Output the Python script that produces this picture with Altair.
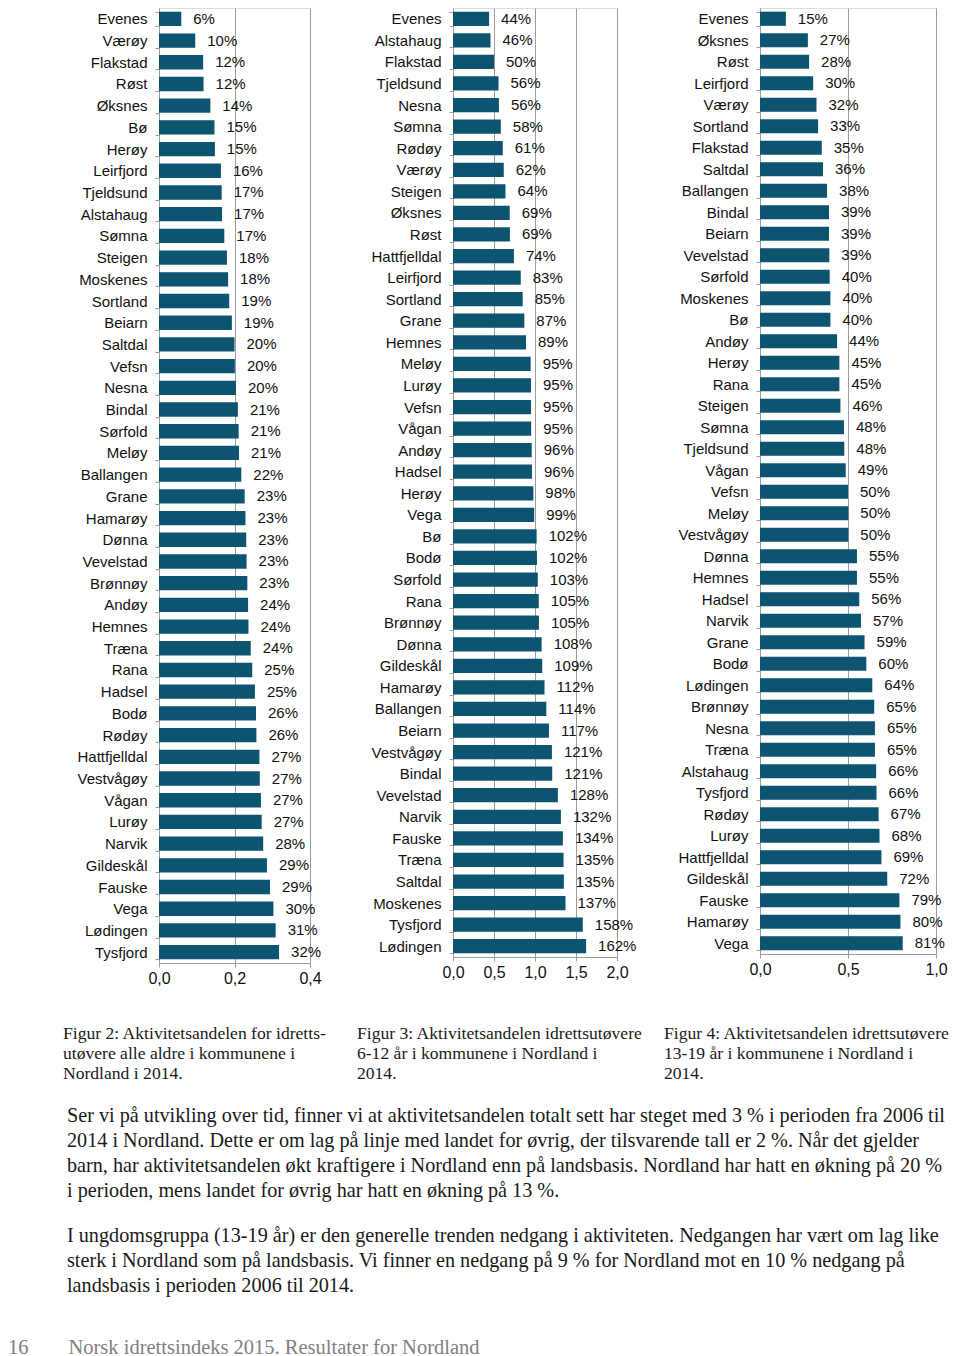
import altair as alt
import pandas as pd

# ---------------- data ----------------
names1 = ["Evenes", "Værøy", "Flakstad", "Røst", "Øksnes", "Bø", "Herøy", "Leirfjord",
          "Tjeldsund", "Alstahaug", "Sømna", "Steigen", "Moskenes", "Sortland", "Beiarn",
          "Saltdal", "Vefsn", "Nesna", "Bindal", "Sørfold", "Meløy", "Ballangen", "Grane",
          "Hamarøy", "Dønna", "Vevelstad", "Brønnøy", "Andøy", "Hemnes", "Træna", "Rana",
          "Hadsel", "Bodø", "Rødøy", "Hattfjelldal", "Vestvågøy", "Vågan", "Lurøy", "Narvik",
          "Gildeskål", "Fauske", "Vega", "Lødingen", "Tysfjord"]
vals1 = [0.059, 0.096, 0.117, 0.118, 0.136, 0.147, 0.148, 0.164,
         0.166, 0.167, 0.173, 0.180, 0.183, 0.186, 0.193,
         0.200, 0.201, 0.204, 0.209, 0.211, 0.212, 0.218, 0.227,
         0.229, 0.231, 0.232, 0.234, 0.236, 0.237, 0.243, 0.247,
         0.254, 0.257, 0.258, 0.266, 0.267, 0.270, 0.272, 0.276,
         0.286, 0.294, 0.303, 0.309, 0.318]

names2 = ["Evenes", "Alstahaug", "Flakstad", "Tjeldsund", "Nesna", "Sømna", "Rødøy", "Værøy",
          "Steigen", "Øksnes", "Røst", "Hattfjelldal", "Leirfjord", "Sortland", "Grane",
          "Hemnes", "Meløy", "Lurøy", "Vefsn", "Vågan", "Andøy", "Hadsel", "Herøy", "Vega",
          "Bø", "Bodø", "Sørfold", "Rana", "Brønnøy", "Dønna", "Gildeskål", "Hamarøy",
          "Ballangen", "Beiarn", "Vestvågøy", "Bindal", "Vevelstad", "Narvik", "Fauske",
          "Træna", "Saltdal", "Moskenes", "Tysfjord", "Lødingen"]
vals2 = [0.44, 0.457, 0.50, 0.555, 0.56, 0.583, 0.607, 0.619,
         0.64, 0.692, 0.694, 0.743, 0.826, 0.85, 0.87,
         0.89, 0.947, 0.951, 0.952, 0.953, 0.96, 0.963, 0.98, 0.99,
         1.02, 1.024, 1.034, 1.046, 1.048, 1.081, 1.088, 1.116,
         1.138, 1.17, 1.206, 1.21, 1.279, 1.316, 1.34,
         1.348, 1.352, 1.372, 1.583, 1.623]

names3 = ["Evenes", "Øksnes", "Røst", "Leirfjord", "Værøy", "Sortland", "Flakstad", "Saltdal",
          "Ballangen", "Bindal", "Beiarn", "Vevelstad", "Sørfold", "Moskenes", "Bø", "Andøy",
          "Herøy", "Rana", "Steigen", "Sømna", "Tjeldsund", "Vågan", "Vefsn", "Meløy",
          "Vestvågøy", "Dønna", "Hemnes", "Hadsel", "Narvik", "Grane", "Bodø", "Lødingen",
          "Brønnøy", "Nesna", "Træna", "Alstahaug", "Tysfjord", "Rødøy", "Lurøy",
          "Hattfjelldal", "Gildeskål", "Fauske", "Hamarøy", "Vega"]
vals3 = [0.147, 0.272, 0.279, 0.302, 0.321, 0.33, 0.351, 0.358,
         0.381, 0.392, 0.392, 0.394, 0.396, 0.40, 0.40, 0.438,
         0.451, 0.451, 0.457, 0.477, 0.479, 0.487, 0.50, 0.502,
         0.502, 0.551, 0.551, 0.564, 0.574, 0.594, 0.604, 0.638,
         0.649, 0.653, 0.653, 0.66, 0.662, 0.674, 0.679,
         0.69, 0.723, 0.792, 0.798, 0.811]

ticks1 = [0, 0.2, 0.4]
ticks2 = [0, 0.5, 1.0, 1.5, 2.0]
ticks3 = [0, 0.5, 1.0]

caption1 = ["Figur 2: Aktivitetsandelen for idretts-", "utøvere alle aldre i kommunene i",
            "Nordland i 2014."]
caption2 = ["Figur 3: Aktivitetsandelen idrettsutøvere", "6-12 år i kommunene i Nordland i",
            "2014."]
caption3 = ["Figur 4: Aktivitetsandelen idrettsutøvere", "13-19 år i kommunene i Nordland i",
            "2014."]

para1 = ["Ser vi på utvikling over tid, finner vi at aktivitetsandelen totalt sett har steget med 3 % i perioden fra 2006 til",
         "2014 i Nordland. Dette er om lag på linje med landet for øvrig, der tilsvarende tall er 2 %. Når det gjelder",
         "barn, har aktivitetsandelen økt kraftigere i Nordland enn på landsbasis. Nordland har hatt en økning på 20 %",
         "i perioden, mens landet for øvrig har hatt en økning på 13 %."]
para2 = ["I ungdomsgruppa (13-19 år) er den generelle trenden nedgang i aktiviteten. Nedgangen har vært om lag like",
         "sterk i Nordland som på landsbasis. Vi finner en nedgang på 9 % for Nordland mot en 10 % nedgang på",
         "landsbasis i perioden 2006 til 2014."]
page_no = "16"
footer = "Norsk idrettsindeks 2015. Resultater for Nordland"

# ---------------- style ----------------
BAR = "#0D5470"
GRID = "#9c9c9c"
SANS = "Liberation Sans"
SERIF = "Liberation Serif"


def panel(names, vals, xmax, ticks, width, height, caption, cap_offset):
    df = pd.DataFrame({"kommune": names, "andel": vals})
    yenc = alt.Y("kommune:N", sort=names, title=None,
                 scale=alt.Scale(paddingInner=0.34, paddingOuter=0.17),
                 axis=alt.Axis(tickBand="extent", tickSize=4, tickColor=GRID,
                               domainColor=GRID, labelFont=SANS, labelFontSize=15,
                               labelColor="#111111", labelPadding=8, grid=False))
    xenc = alt.X("andel:Q", title=None,
                 scale=alt.Scale(domain=[0, xmax], nice=False, zero=True),
                 axis=alt.Axis(values=ticks, grid=True, gridColor=GRID, tickSize=4,
                               tickColor=GRID, domainColor=GRID, labelFont=SANS,
                               labelFontSize=16, labelColor="#111111", labelPadding=3,
                               labelFlush=False,
                               labelExpr="replace(format(datum.value, '.1f'), '.', ',')"))
    bars = alt.Chart(df).mark_bar(color=BAR).encode(x=xenc, y=yenc)
    text = alt.Chart(df).mark_text(align="left", baseline="middle", dx=12, font=SANS,
                                   fontSize=15, color="#111111").encode(
        x="andel:Q", y=alt.Y("kommune:N", sort=names),
        text=alt.Text("andel:Q", format=".0%"))
    return alt.layer(bars, text).properties(
        width=width, height=height,
        title=alt.TitleParams(caption, orient="bottom", anchor="start", frame="bounds",
                              font=SERIF, fontSize=17.6, fontWeight="normal",
                              lineHeight=20, color="#1a1a1a", dx=-14, offset=cap_offset))


c1 = panel(names1, vals1, 0.4, ticks1, 151, 955, caption1, 39)
c2 = panel(names2, vals2, 2.0, ticks2, 164, 949, caption2, 45)
c3 = panel(names3, vals3, 1.0, ticks3, 176, 946, caption3, 48)

top = alt.hconcat(alt.hconcat(c1, c2, spacing=28), c3, spacing=19)

para = alt.Chart(pd.DataFrame({"v": [0]})).mark_text(opacity=0).encode(
    text=alt.value("")
).properties(
    width=700, height=1,
    title=alt.TitleParams(para1, subtitle=para2, orient="top", anchor="start",
                          frame="group", font=SERIF, fontSize=20.2, fontWeight="normal",
                          lineHeight=25, color="#1a1a1a", subtitleFont=SERIF,
                          subtitleFontSize=20.2, subtitleLineHeight=25,
                          subtitleColor="#1a1a1a", subtitlePadding=25, dx=-92, offset=0))

nb = "\u00a0"
chart = alt.vconcat(top, para, spacing=22).properties(
    padding={"left": 0, "top": -8, "right": 0, "bottom": 0},
    title=alt.TitleParams(page_no + nb * 7 + "\u2009" + footer, orient="bottom",
                          anchor="start", frame="group", font=SERIF, fontSize=20.5,
                          fontWeight="normal", color="#808080", dx=-151, offset=30)
).configure_view(stroke="transparent", strokeWidth=0).configure(background="white")

chart.save("out.html", embed_options={"renderer": "svg", "actions": False})
